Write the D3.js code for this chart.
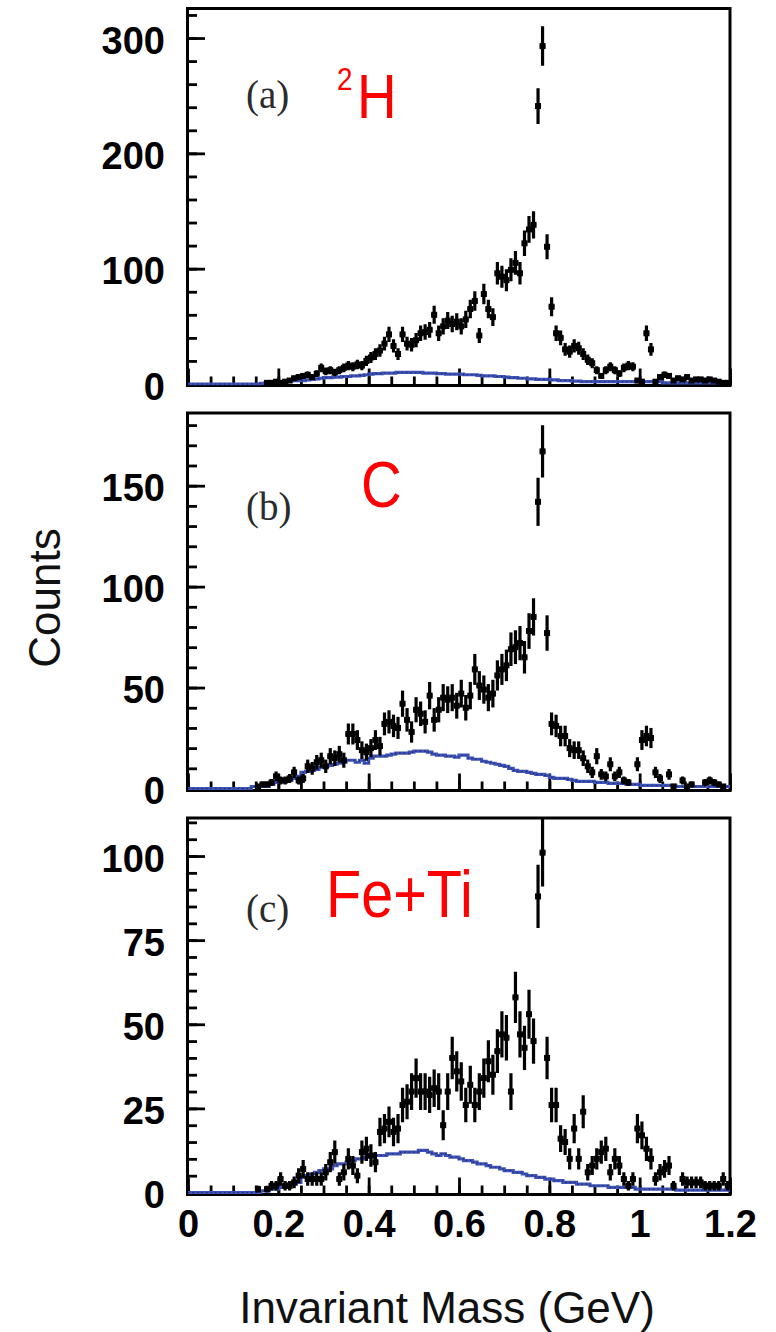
<!DOCTYPE html>
<html>
<head>
<meta charset="utf-8">
<script src="https://cdn.jsdelivr.net/npm/d3@7"></script>
<style>
  html, body { margin: 0; padding: 0; background: #fff; }
  svg { display: block; }
</style>
</head>
<body>
<svg id="chart" width="776" height="1332"></svg>
<script>
// Invariant-mass spectra, 0.01 GeV bins from 0 to 1.2 GeV (120 bins each)
const binWidth = 0.01;
const massMax = 1.2;
const massTickValues = [0, 0.2, 0.4, 0.6, 0.8, 1, 1.2];
const massTickLabels = ["0", "0.2", "0.4", "0.6", "0.8", "1", "1.2"];

// (a) 2H target: measured counts and simulated background
const countsH2 = [
  0,0,0,0,0,0,0,0,0,0,
  0,0,0,0,0,0,0,1,1,2,
  1,2,3,5,6,7,8,6,9,14,
  11,12,10,12,14,16,15,17,16,20,
  23,26,29,35,43,33,26,43,35,34,
  38,44,45,47,60,44,50,55,52,54,
  50,56,65,72,42,78,65,58,96,93,
  90,99,105,96,122,134,138,241,293,119,
  67,44,40,30,28,33,31,26,21,18,
  12,7,12,15,12,9,14,16,15,3,
  2,44,30,2,6,8,7,3,5,4,
  6,3,4,4,3,4,3,2,1,1
];
const backgroundH2 = [
  0,0,0,0,0,0,0,0,0,0,
  0,0,0,0,0,0,0.5,1,1,1.5,
  2,2,2.5,3,3,3,3.5,4,4.5,5,
  5.5,5.5,6,6,6.5,6.5,7,7,7.5,8,
  8.5,9,9,9.5,9.5,9.5,10,10,10,10,
  10,10,9.5,9.5,9.5,9,9,8.5,8.5,8.5,
  8.5,8,8,8,7.5,7,7,7,6.5,6.5,
  6,5.5,5.5,5,5,4.5,4.5,4,4,4,
  3.5,3.5,3,3,3,2.5,2.5,2,2,2,
  2,2,2,2,2,2,2,2,2,2,
  2,2,2,2,2,1,1,1,1,1,
  1,1,1,1,1,1,1,1,1,1
];

// (b) C target
const countsC = [
  0,0,0,0,0,0,0,0,0,0,
  0,0,0,0,0,1,2,2,3,6,
  4,4,5,8,4,5,11,10,13,14,
  11,16,15,17,14,27,27,24,19,18,
  20,24,21,32,33,31,30,42,34,28,
  39,37,33,46,34,39,45,44,45,41,
  47,40,46,59,51,49,45,47,56,59,
  61,69,70,72,65,78,85,142,167,77,
  32,31,26,26,20,19,19,15,11,8,
  16,7,6,12,6,8,4,3,0,12,
  24,26,25,8,5,0,7,1,0,4,
  1,2,0,0,3,4,3,2,1,0
];
const backgroundC = [
  0,0,0,0,0,0,0,0,0,0,
  0,0,0,0,1,1,1,1,2,3,
  3.5,4,4,5,6,8,8.5,9,9.5,10.5,
  11,11.5,12,12.5,13,14,14,13,14,12.5,
  15,16,16,16,16.5,17,17.5,17.5,17.5,18,
  18.5,18.5,18.5,18,17,16.5,16.5,16,16,15.5,
  16.5,16.5,15,14.5,14.5,13.5,13,12.5,12,11.5,
  11,10,9,8.5,8.5,8,7.5,7,7,6.5,
  5.5,5,5,5,4.5,4,3.5,3.5,3.5,3.5,
  3,3,3,2.5,2.5,2.5,2.5,2,2,2,
  1.5,1.5,1.5,1.5,1.5,1.5,1.5,1.5,1,1,
  1,1,1,1,1,1,1,1,1,1
];

// (c) Fe+Ti target
const countsFeTi = [
  0,0,0,0,0,0,0,0,0,0,
  0,0,0,0,0,1,0,1,2,2,
  4,2,2,3,5,7,4,4,4,4,
  6,9,12,4,6,10,8,5,12,13,
  11,9,18,19,21,18,19,26,27,30,
  34,30,30,29,31,30,20,30,40,36,
  33,26,32,26,30,34,39,35,42,47,
  46,30,58,47,43,53,45,88,101,40,
  26,26,16,15,10,19,10,24,6,8,
  10,12,13,6,10,8,4,2,4,19,
  17,13,10,4,6,7,8,2,0,4,
  3,3,3,3,2,2,2,2,4,2
];
const backgroundFeTi = [
  0,0,0,0,0,0,0,0,0,0,
  0,0,0,0,0,0,0.5,0.5,1,1,
  1.5,2,2.5,2.5,3,4.5,5,5.5,6,6.5,
  7,7,8,8.5,8.5,9,9.5,10,10,10.5,
  10.5,11,11,11,11.5,11.5,11.5,12,12,12,
  12,12.5,12.5,12,11.5,11,11.5,11,10.5,10.5,
  10,9.5,9.5,9,8.5,8.5,8,7.5,7.5,7,
  6.5,6.5,6,6,5.5,5,5,4.5,4.5,4,
  4,3.5,3.5,3,3,3,2.5,2.5,2.5,2,
  2,2,2,1.5,1.5,1.5,1.5,1.5,1.5,1,
  1,1,1,1,1,1,1,1,0.7,0.7,
  0.7,0.7,0.7,0.7,0.7,0.7,0.7,0.7,0.7,0.7
];

// Count-axis ticks per panel
const countTicksH2 = [0, 100, 200, 300];
const countTicksC = [0, 50, 100, 150];
const countTicksFeTi = [0, 25, 50, 75, 100];

const panelLetters = ["(a)", "(b)", "(c)"];
const targetNames = ["H", "C", "Fe+Ti"];

// ---- layout ----
const svg = d3.select("#chart");
const xLeft = 188, xRight = 730;
const x = d3.scaleLinear().domain([0, massMax]).range([xLeft, xRight]);

const panels = [
  { counts: countsH2, bg: backgroundH2, ticks: countTicksH2, minorStep: 20,
    zeroY: 384, topY: 8.5, yMax: 325.6, frameBottom: 385.5,
    letterY: 108, nameY: 118 },
  { counts: countsC, bg: backgroundC, ticks: countTicksC, minorStep: 10,
    zeroY: 788.5, topY: 413, yMax: 186, frameBottom: 790.5,
    letterY: 520, nameY: 507 },
  { counts: countsFeTi, bg: backgroundFeTi, ticks: countTicksFeTi, minorStep: 5,
    zeroY: 1192.5, topY: 818, yMax: 111.3, frameBottom: 1194.5,
    letterY: 922, nameY: 917 }
];

const tickFont = "'Liberation Sans', Arial, Helvetica, sans-serif";
const blue = "#3d52b6";

panels.forEach((p, pi) => {
  const y = d3.scaleLinear().domain([0, p.yMax]).range([p.zeroY, p.topY]);
  const g = svg.append("g");
  const clipId = "clip" + pi;
  svg.append("clipPath").attr("id", clipId)
    .append("rect")
    .attr("x", xLeft).attr("y", p.topY)
    .attr("width", xRight - xLeft).attr("height", p.frameBottom - p.topY);

  // frame
  g.append("rect")
    .attr("x", xLeft - 0.5).attr("y", p.topY)
    .attr("width", xRight - xLeft + 0.5).attr("height", p.frameBottom - p.topY)
    .attr("fill", "none").attr("stroke", "#000").attr("stroke-width", 3);

  // count axis: minor and major ticks pointing inward
  const minor = d3.range(0, p.yMax, p.minorStep);
  g.append("g").attr("transform", `translate(${xLeft},0)`)
    .call(d3.axisLeft(y).tickValues(minor).tickSize(-9).tickFormat(""))
    .call(a => a.select(".domain").remove())
    .call(a => a.selectAll("line").attr("stroke", "#000").attr("stroke-width", 2.8));
  g.append("g").attr("transform", `translate(${xLeft},0)`)
    .call(d3.axisLeft(y).tickValues(p.ticks).tickSize(-17).tickPadding(23)
      .tickFormat(d3.format("d")))
    .call(a => a.select(".domain").remove())
    .call(a => a.selectAll("line").attr("stroke", "#000").attr("stroke-width", 2.8))
    .call(a => a.selectAll("text")
      .attr("dy", "0.4em")
      .attr("fill", "#000")
      .style("font-family", tickFont)
      .style("font-size", "38px")
      .style("font-weight", "bold"));

  // mass axis ticks along the bottom of each frame
  const isLast = pi === panels.length - 1;
  const minorX = d3.range(0, massMax + 1e-9, 0.05);
  g.append("g").attr("transform", `translate(0,${p.frameBottom})`)
    .call(d3.axisBottom(x).tickValues(minorX).tickSize(-9).tickFormat(""))
    .call(a => a.select(".domain").remove())
    .call(a => a.selectAll("line").attr("stroke", "#000").attr("stroke-width", 2.8));
  g.append("g").attr("transform", `translate(0,${p.frameBottom})`)
    .call(d3.axisBottom(x).tickValues(massTickValues).tickSize(-17).tickPadding(15.5)
      .tickFormat((d, i) => isLast ? massTickLabels[i] : ""))
    .call(a => a.select(".domain").remove())
    .call(a => a.selectAll("line").attr("stroke", "#000").attr("stroke-width", 2.8))
    .call(a => a.selectAll("text")
      .attr("fill", "#000")
      .style("font-family", tickFont)
      .style("font-size", "38px")
      .style("font-weight", "bold"));

  const plot = g.append("g").attr("clip-path", `url(#${clipId})`);

  // background simulation drawn as a step histogram
  const stepPts = p.bg.map((v, i) => [i * binWidth, v]);
  stepPts.push([massMax, p.bg[p.bg.length - 1]]);
  const step = d3.line().x(d => x(d[0])).y(d => y(d[1])).curve(d3.curveStepAfter);
  plot.append("path").attr("d", step(stepPts))
    .attr("fill", "none").attr("stroke", blue).attr("stroke-width", 3.2);
  plot.append("path").attr("d", step(stepPts))
    .attr("fill", "none").attr("stroke", "#1b1f4a").attr("stroke-width", 1.1)
    .attr("stroke-dasharray", "1.5 3").attr("opacity", 0.75);

  // data points with statistical error bars
  const pts = p.counts.map((v, i) => ({ c: (i + 0.5) * binWidth, v }))
    .filter(d => d.v > 0);
  const pg = plot.append("g").attr("stroke", "#000");
  pg.selectAll("line.ey").data(pts).join("line").attr("class", "ey")
    .attr("stroke-width", 3.2)
    .attr("x1", d => x(d.c)).attr("x2", d => x(d.c))
    .attr("y1", d => y(Math.max(0, d.v - Math.sqrt(d.v))))
    .attr("y2", d => y(d.v + Math.sqrt(d.v)));
  pg.selectAll("line.ex").data(pts).join("line").attr("class", "ex")
    .attr("stroke-width", 3.4)
    .attr("x1", d => x(d.c - binWidth * 0.6)).attr("x2", d => x(d.c + binWidth * 0.6))
    .attr("y1", d => y(d.v)).attr("y2", d => y(d.v));
  plot.append("g").selectAll("rect").data(pts).join("rect")
    .attr("x", d => x(d.c) - 3).attr("y", d => y(d.v) - 3)
    .attr("width", 6).attr("height", 6).attr("fill", "#000");

  // panel letter
  svg.append("text")
    .attr("x", 246).attr("y", p.letterY)
    .attr("fill", "#2b2b2b")
    .style("font-family", "'Liberation Serif', 'Times New Roman', serif")
    .style("font-size", "39px")
    .text(panelLetters[pi]);
});

// target labels in red (slightly condensed sans)
const red = "#f00";
const sans = "'Liberation Sans', Arial, sans-serif";
const h2 = svg.append("g").attr("transform", "translate(337,0) scale(0.87,1)");
h2.append("text").attr("x", 0).attr("y", 90)
  .attr("fill", red).style("font-family", sans).style("font-size", "32px").text("2");
h2.append("text").attr("x", 23).attr("y", 118)
  .attr("fill", red).style("font-family", sans).style("font-size", "63px").text(targetNames[0]);
svg.append("g").attr("transform", "translate(361,0) scale(0.88,1)")
  .append("text").attr("x", 0).attr("y", panels[1].nameY)
  .attr("fill", red).style("font-family", sans).style("font-size", "64px").text(targetNames[1]);
svg.append("g").attr("transform", "translate(326,0) scale(0.86,1)")
  .append("text").attr("x", 0).attr("y", panels[2].nameY)
  .attr("fill", red).style("font-family", sans).style("font-size", "67px").text(targetNames[2]);

// axis titles
svg.append("text")
  .attr("transform", "translate(60,598) rotate(-90)")
  .attr("text-anchor", "middle")
  .attr("fill", "#111")
  .style("font-family", sans).style("font-size", "44px")
  .text("Counts");
svg.append("text")
  .attr("x", 447).attr("y", 1323)
  .attr("text-anchor", "middle")
  .attr("fill", "#111")
  .style("font-family", sans).style("font-size", "44px")
  .text("Invariant Mass (GeV)");
</script>
</body>
</html>
